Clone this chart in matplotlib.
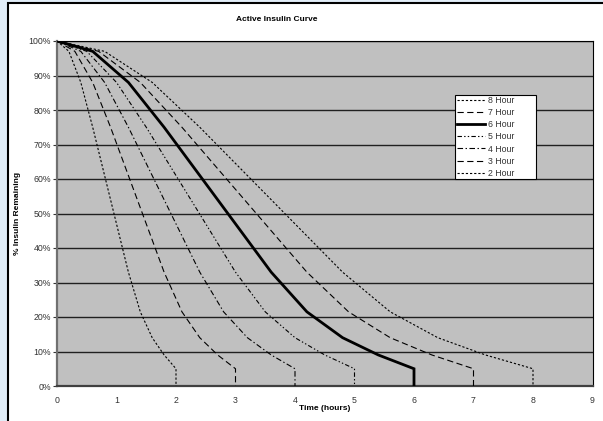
import matplotlib
matplotlib.use("Agg")
import matplotlib.pyplot as plt
from matplotlib.patches import Rectangle

plt.rcParams['font.family'] = ['Liberation Sans', 'DejaVu Sans']
plt.rcParams['lines.scale_dashes'] = False

# % insulin remaining at each tenth of the action duration, then drop to 0
pct_remaining = [100, 97, 88, 75, 61, 47, 33, 21.5, 14, 9, 5, 0]

time_8h = [0, 0.8, 1.6, 2.4, 3.2, 4.0, 4.8, 5.6, 6.4, 7.2, 8.0, 8.0]
time_7h = [0, 0.7, 1.4, 2.1, 2.8, 3.5, 4.2, 4.9, 5.6, 6.3, 7.0, 7.0]
time_6h = [0, 0.6, 1.2, 1.8, 2.4, 3.0, 3.6, 4.2, 4.8, 5.4, 6.0, 6.0]
time_5h = [0, 0.5, 1.0, 1.5, 2.0, 2.5, 3.0, 3.5, 4.0, 4.5, 5.0, 5.0]
time_4h = [0, 0.4, 0.8, 1.2, 1.6, 2.0, 2.4, 2.8, 3.2, 3.6, 4.0, 4.0]
time_3h = [0, 0.3, 0.6, 0.9, 1.2, 1.5, 1.8, 2.1, 2.4, 2.7, 3.0, 3.0]
time_2h = [0, 0.2, 0.4, 0.6, 0.8, 1.0, 1.2, 1.4, 1.6, 1.8, 2.0, 2.0]

series_labels = ["8 Hour", "7 Hour", "6 Hour", "5 Hour", "4 Hour", "3 Hour", "2 Hour"]
series_times = [time_8h, time_7h, time_6h, time_5h, time_4h, time_3h, time_2h]

x_ticks = [0, 1, 2, 3, 4, 5, 6, 7, 8, 9]
y_ticks = [0, 10, 20, 30, 40, 50, 60, 70, 80, 90, 100]
y_tick_labels = [f"{v}%" for v in y_ticks]

styles = {
    "8 Hour": dict(lw=0.8, ls=(0, (1.6, 1.4))),
    "7 Hour": dict(lw=0.8, ls=(0, (4.5, 2.5))),
    "6 Hour": dict(lw=2.0, ls='-'),
    "5 Hour": dict(lw=0.8, ls=(0, (3.2, 1.6, 1.0, 1.6, 1.0, 1.6))),
    "4 Hour": dict(lw=0.8, ls=(0, (4.0, 1.8, 1.0, 1.8))),
    "3 Hour": dict(lw=0.8, ls=(0, (4.5, 2.5))),
    "2 Hour": dict(lw=0.8, ls=(0, (1.6, 1.4))),
}

fig = plt.figure(figsize=(6.03, 4.21), dpi=100)
fig.patch.set_facecolor('#E1EDF8')
frame = Rectangle((8 / 603, -0.05), 1.0, 1 - 3 / 421 + 0.05,
                  transform=fig.transFigure, facecolor='white',
                  edgecolor='black', linewidth=1.5, zorder=-10)
fig.add_artist(frame)

ax = fig.add_axes([57 / 603, 1 - 386 / 421, 535.5 / 603, 345 / 421])
ax.set_zorder(1)
ax.set_facecolor('#C0C0C0')

for lab, t in zip(series_labels, series_times):
    ax.plot(t, pct_remaining, color='black', label=lab,
            solid_joinstyle='miter', **styles[lab], zorder=3)

ax.set_xlim(0, 9)
ax.set_ylim(0, 100)
ax.set_xticks(x_ticks)
ax.set_yticks(y_ticks)
ax.set_yticklabels(y_tick_labels)
ax.yaxis.grid(True, color='#202020', linewidth=1.0)
ax.set_axisbelow(True)
ax.tick_params(axis='x', length=0, labelsize=6.3, colors='#333333', pad=7)
ax.tick_params(axis='y', length=3, width=0.8, labelsize=6.3, colors='#333333', pad=1.5)
for s in ['top', 'right']:
    ax.spines[s].set_color('black')
    ax.spines[s].set_linewidth(0.8)
ax.spines['left'].set_color('#707070')
ax.spines['left'].set_linewidth(1.6)
ax.spines['bottom'].set_color('#404040')
ax.spines['bottom'].set_linewidth(1.6)

ax.set_xlabel("Time (hours)", fontsize=6, fontweight='bold')
ax.xaxis.set_label_coords(0.5, -0.055)
ax.set_ylabel("% Insulin Remaining", fontsize=6, fontweight='bold')
ax.yaxis.set_label_coords(-0.068, 0.5)

fig.text(277 / 603, 1 - 19.5 / 421, "Active Insulin Curve", fontsize=6,
         fontweight='bold', ha='center', va='center')

leg = ax.legend(loc='upper left', bbox_to_anchor=(0.744, 0.603, 0.1513, 0.2406),
                mode='expand', fontsize=6.3,
                frameon=True, fancybox=False, edgecolor='black',
                facecolor='white', framealpha=1, handlelength=3.2,
                handletextpad=0.4, labelspacing=0.35, borderpad=0.15,
                borderaxespad=0)
leg.get_frame().set_linewidth(0.8)
for txt in leg.get_texts():
    txt.set_color('#333333')

fig.savefig("out.png", dpi=100, facecolor=fig.get_facecolor())
